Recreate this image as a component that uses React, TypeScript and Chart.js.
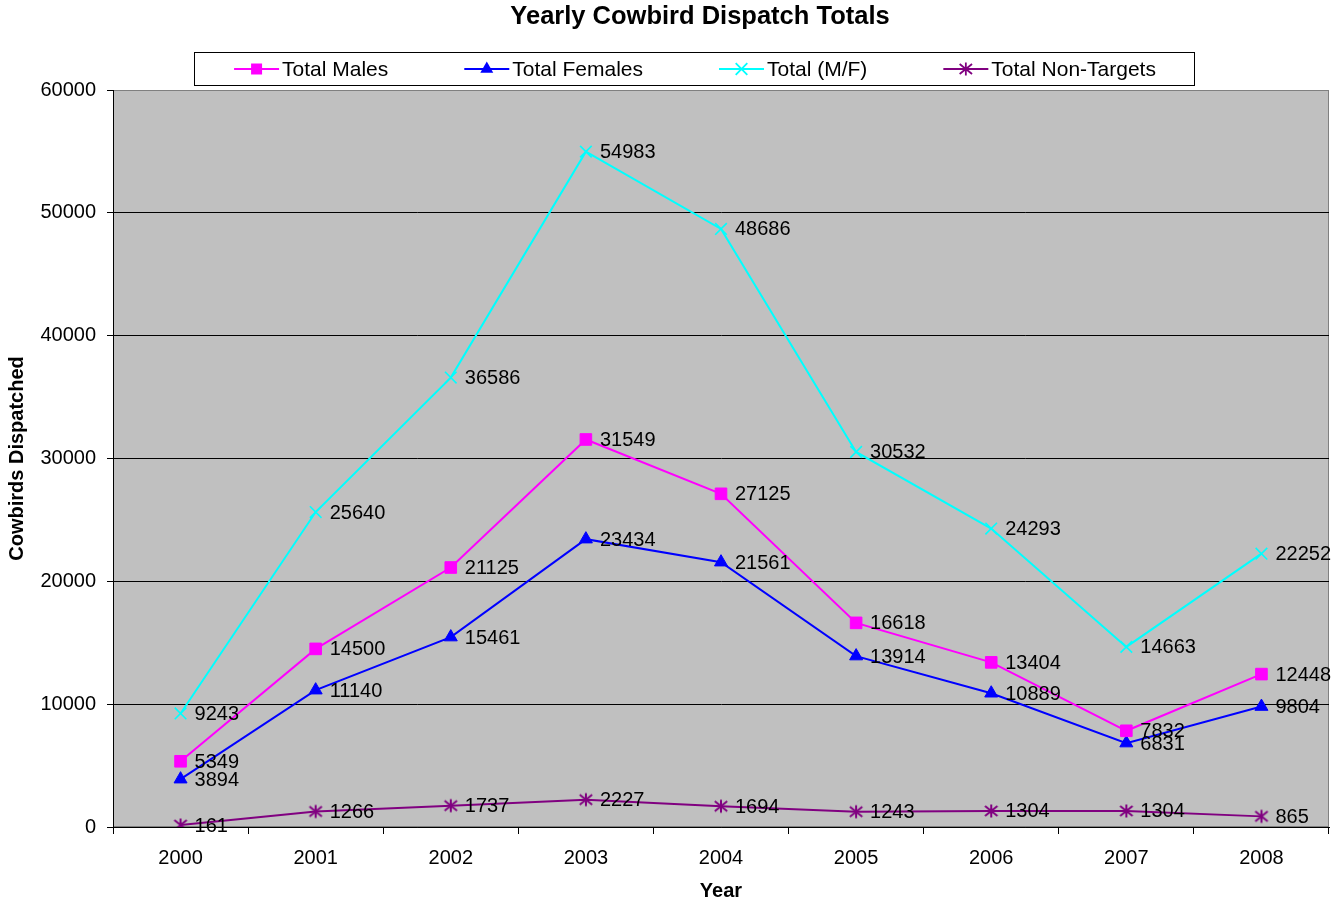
import React, { useEffect, useRef } from 'react';
import { Chart, registerables } from 'chart.js';

Chart.register(...registerables);

const years = ['2000', '2001', '2002', '2003', '2004', '2005', '2006', '2007', '2008'];
const totalMales = [5349, 14500, 21125, 31549, 27125, 16618, 13404, 7832, 12448];
const totalFemales = [3894, 11140, 15461, 23434, 21561, 13914, 10889, 6831, 9804];
const totalMF = [9243, 25640, 36586, 54983, 48686, 30532, 24293, 14663, 22252];
const nonTargets = [161, 1266, 1737, 2227, 1694, 1243, 1304, 1304, 865];
const yMin = 0;
const yMax = 60000;
const yStep = 10000;

const seriesNames = ['Total Males', 'Total Females', 'Total (M/F)', 'Total Non-Targets'];
const seriesColors = ['#FF00FF', '#0000FF', '#00FFFF', '#800080'];
const titleText = 'Yearly Cowbird Dispatch Totals';
const xTitle = 'Year';
const yTitle = 'Cowbirds Dispatched';

const FONT = "'Liberation Sans', Arial, Helvetica, sans-serif";

function makeStar(color: string): HTMLCanvasElement {
  const c = document.createElement('canvas');
  c.width = 16;
  c.height = 16;
  const g = c.getContext('2d')!;
  g.strokeStyle = color;
  g.lineWidth = 2;
  g.beginPath();
  g.moveTo(8, 1.5);
  g.lineTo(8, 14.5);
  g.moveTo(1.8, 3);
  g.lineTo(14.2, 13);
  g.moveTo(1.8, 13);
  g.lineTo(14.2, 3);
  g.stroke();
  return c;
}

function drawMarker(ctx: CanvasRenderingContext2D, kind: number, x: number, y: number, color: string) {
  ctx.save();
  ctx.fillStyle = color;
  ctx.strokeStyle = color;
  ctx.lineWidth = 1.8;
  ctx.beginPath();
  if (kind === 0) {
    ctx.rect(x - 5.5, y - 5.5, 11, 11);
    ctx.fill();
  } else if (kind === 1) {
    const r = 7.5;
    ctx.moveTo(x, y - r);
    ctx.lineTo(x + Math.sin((2 * Math.PI) / 3) * r, y + r / 2);
    ctx.lineTo(x - Math.sin((2 * Math.PI) / 3) * r, y + r / 2);
    ctx.closePath();
    ctx.fill();
  } else if (kind === 2) {
    const d = 5.8;
    ctx.moveTo(x - d, y - d);
    ctx.lineTo(x + d, y + d);
    ctx.moveTo(x - d, y + d);
    ctx.lineTo(x + d, y - d);
    ctx.stroke();
  } else {
    ctx.moveTo(x, y - 6.5);
    ctx.lineTo(x, y + 6.5);
    ctx.moveTo(x - 6.2, y - 5);
    ctx.lineTo(x + 6.2, y + 5);
    ctx.moveTo(x - 6.2, y + 5);
    ctx.lineTo(x + 6.2, y - 5);
    ctx.stroke();
  }
  ctx.restore();
}

const decorPlugin = {
  id: 'decor',
  beforeDraw(chart: any) {
    const { ctx, chartArea } = chart;
    ctx.save();
    ctx.fillStyle = '#FFFFFF';
    ctx.fillRect(0, 0, chart.width, chart.height);
    ctx.fillStyle = '#C0C0C0';
    ctx.fillRect(chartArea.left, chartArea.top, chartArea.right - chartArea.left, chartArea.bottom - chartArea.top);
    ctx.strokeStyle = '#808080';
    ctx.lineWidth = 1;
    ctx.strokeRect(chartArea.left + 0.5, chartArea.top + 0.5, chartArea.right - chartArea.left - 1, chartArea.bottom - chartArea.top - 1);
    ctx.restore();
  },
  afterDatasetsDraw(chart: any) {
    const { ctx } = chart;
    ctx.save();
    ctx.font = `20px ${FONT}`;
    ctx.fillStyle = '#000';
    ctx.textAlign = 'left';
    ctx.textBaseline = 'middle';
    chart.data.datasets.forEach((ds: any, i: number) => {
      const meta = chart.getDatasetMeta(i);
      meta.data.forEach((pt: any, j: number) => {
        ctx.fillText(String(ds.data[j]), pt.x + 14, pt.y + 1);
      });
    });
    ctx.restore();
  },
  afterDraw(chart: any) {
    const { ctx } = chart;
    ctx.save();
    // title
    ctx.font = `bold 25.5px ${FONT}`;
    ctx.fillStyle = '#000';
    ctx.textAlign = 'center';
    ctx.textBaseline = 'middle';
    ctx.fillText(titleText, 700, 17);
    // legend
    ctx.font = `21px ${FONT}`;
    const lineLen = 45;
    const textGap = 3;
    const itemGap = 76;
    const widths = seriesNames.map((n) => lineLen + textGap + ctx.measureText(n).width);
    const total = widths.reduce((a, b) => a + b, 0) + itemGap * (seriesNames.length - 1);
    const cx = 695;
    const ly = 69;
    let x = cx - total / 2;
    const boxL = Math.round(x - 40) + 0.5;
    const boxR = Math.round(x + total + 38) + 0.5;
    ctx.fillStyle = '#FFFFFF';
    ctx.fillRect(boxL, 52.5, boxR - boxL, 33);
    ctx.strokeStyle = '#000';
    ctx.lineWidth = 1;
    ctx.strokeRect(boxL, 52.5, boxR - boxL, 33);
    ctx.textAlign = 'left';
    ctx.textBaseline = 'middle';
    seriesNames.forEach((n, i) => {
      ctx.strokeStyle = seriesColors[i];
      ctx.lineWidth = 2;
      ctx.beginPath();
      ctx.moveTo(x, ly);
      ctx.lineTo(x + lineLen, ly);
      ctx.stroke();
      drawMarker(ctx, i, x + lineLen / 2, ly, seriesColors[i]);
      ctx.fillStyle = '#000';
      ctx.fillText(n, x + lineLen + textGap, ly + 1);
      x += widths[i] + itemGap;
    });
    ctx.restore();
  },
};

export default function App() {
  const ref = useRef<HTMLCanvasElement | null>(null);
  useEffect(() => {
    if (!ref.current) return;
    const star = makeStar(seriesColors[3]);
    const chart = new Chart(ref.current, {
      type: 'line',
      data: {
        labels: years,
        datasets: [
          {
            label: seriesNames[0],
            data: totalMales,
            borderColor: seriesColors[0],
            backgroundColor: seriesColors[0],
            borderWidth: 2,
            pointStyle: 'rect',
            pointRadius: 8.2,
            pointBorderWidth: 1,
            tension: 0,
          },
          {
            label: seriesNames[1],
            data: totalFemales,
            borderColor: seriesColors[1],
            backgroundColor: seriesColors[1],
            borderWidth: 2,
            pointStyle: 'triangle',
            pointRadius: 7.5,
            pointBorderWidth: 1,
            tension: 0,
          },
          {
            label: seriesNames[2],
            data: totalMF,
            borderColor: seriesColors[2],
            backgroundColor: seriesColors[2],
            borderWidth: 2,
            pointStyle: 'crossRot',
            pointRadius: 8.2,
            pointBorderWidth: 1.6,
            tension: 0,
          },
          {
            label: seriesNames[3],
            data: nonTargets,
            borderColor: seriesColors[3],
            backgroundColor: seriesColors[3],
            borderWidth: 2,
            pointStyle: star as any,
            pointRadius: 8,
            tension: 0,
          },
        ],
      },
      options: {
        animation: false,
        responsive: true,
        maintainAspectRatio: false,
        layout: { padding: { top: 90, right: 15, left: 0, bottom: 0 } },
        plugins: {
          legend: { display: false },
          title: { display: false },
          tooltip: { enabled: false },
        },
        scales: {
          x: {
            type: 'category',
            offset: true,
            grid: {
              offset: true,
              drawOnChartArea: false,
              drawTicks: true,
              tickLength: 7,
              color: '#000',
            },
            border: { display: true, color: '#000', width: 1 },
            ticks: { color: '#000', font: { family: FONT, size: 20 }, padding: 12, maxRotation: 0 },
            title: {
              display: true,
              text: xTitle,
              color: '#000',
              font: { family: FONT, size: 20, weight: 'bold' },
              padding: { top: 0, bottom: 4 },
            },
            afterFit: (s: any) => {
              s.height = 80;
            },
          },
          y: {
            min: yMin,
            max: yMax,
            ticks: {
              stepSize: yStep,
              color: '#000',
              font: { family: FONT, size: 20 },
              padding: 11,
              callback: (v: any) => String(v),
            },
            grid: {
              drawTicks: true,
              tickLength: 6,
              color: (c: any) => (c.tick && c.tick.value === yMax ? '#808080' : '#000'),
              tickColor: '#000',
            },
            border: { display: true, color: '#000', width: 1 },
            title: {
              display: true,
              text: yTitle,
              color: '#000',
              font: { family: FONT, size: 20, weight: 'bold' },
              padding: { top: 5, bottom: 0 },
            },
            afterFit: (s: any) => {
              s.width = 113;
            },
          },
        },
      },
      plugins: [decorPlugin],
    });
    return () => chart.destroy();
  }, []);
  return (
    <div style={{ position: 'absolute', left: 0, top: 0, width: 1344, height: 907 }}>
      <canvas ref={ref} />
    </div>
  );
}
